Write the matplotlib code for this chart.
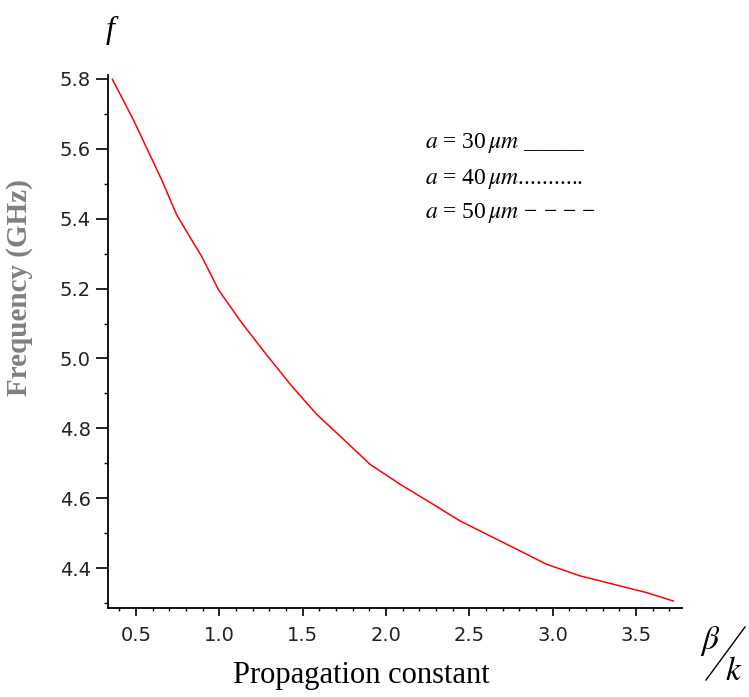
import matplotlib
matplotlib.use("Agg")
import matplotlib.pyplot as plt
from matplotlib.lines import Line2D
from matplotlib.ticker import MultipleLocator, FormatStrFormatter

# === DATA ===
beta_k = [0.358, 0.484, 0.574, 0.654, 0.744, 0.844, 0.894, 0.994, 1.134, 1.274,
          1.434, 1.584, 1.744, 1.904, 2.084, 2.264, 2.444, 2.624, 2.763, 2.963,
          3.163, 3.363, 3.563, 3.723]
freq_ghz = [5.799, 5.683, 5.592, 5.511, 5.411, 5.331, 5.292, 5.197, 5.102, 5.016,
            4.921, 4.840, 4.769, 4.697, 4.640, 4.588, 4.535, 4.492, 4.459, 4.411,
            4.378, 4.354, 4.330, 4.306]

legend_rows = [r"$a$ = 30$\,\mu m$ _____",
               r"$a$ = 40$\,\mu m$...........",
               r"$a$ = 50$\,\mu m$ − − − −"]

W, H = 749, 697

plt.rcParams['mathtext.fontset'] = 'stix'


def fx(px):
    return px / W


def fy(py):
    return 1 - py / H


fig = plt.figure(figsize=(W / 100, H / 100), dpi=100)
ax = fig.add_axes([fx(108), fy(608), fx(682) - fx(108), fy(75) - fy(608)])

ax.plot(beta_k, freq_ghz, color='#ff0000', linewidth=1.1)

ax.set_xlim(0.332, 3.775)
ax.set_ylim(4.286, 5.811)

# only left and bottom axis lines, like the maple plot
for side in ['top', 'right']:
    ax.spines[side].set_visible(False)
for side in ['left', 'bottom']:
    ax.spines[side].set_linewidth(1.3)
    ax.spines[side].set_color('black')

ax.xaxis.set_major_locator(MultipleLocator(0.5))
ax.xaxis.set_minor_locator(MultipleLocator(0.1))
ax.yaxis.set_major_locator(MultipleLocator(0.2))
ax.yaxis.set_minor_locator(MultipleLocator(0.1))
ax.xaxis.set_major_formatter(FormatStrFormatter('%.1f'))
ax.yaxis.set_major_formatter(FormatStrFormatter('%.1f'))

ax.tick_params(axis='x', which='major', length=6, width=1.2, pad=7,
               labelsize=14, labelcolor='#222222')
ax.tick_params(axis='x', which='minor', length=2.5, width=1.0)
ax.tick_params(axis='y', which='major', length=8.5, width=1.2, pad=4,
               labelsize=14, labelcolor='#222222')
ax.tick_params(axis='y', which='minor', length=3, width=1.0)

# axis titles
fig.text(fx(20), fy(288), 'Frequency (GHz)', rotation=90, ha='center', va='center',
         family='Liberation Serif', weight='bold', size=21, color='#808080')
fig.text(fx(361), fy(676), 'Propagation constant', ha='center', va='center',
         family='Liberation Serif', size=22, color='black')
fig.text(fx(110), fy(30), 'f', ha='center', va='center',
         family='Liberation Serif', style='italic', size=23)

# beta / k at the end of the x axis
fig.text(fx(710), fy(641), r'$\beta$', ha='center', va='center', size=24)
fig.text(fx(734), fy(670), r'$k$', ha='center', va='center', size=24)
fig.add_artist(Line2D([fx(706), fx(745)], [fy(680), fy(627)],
                      transform=fig.transFigure, color='black', linewidth=1.0))

# "legend" written as text
for row, base in zip(legend_rows, [148, 184, 218]):
    fig.text(fx(425), fy(base), row, ha='left', va='baseline',
             family='Liberation Serif', size=17)

fig.savefig('out.png', dpi=100)
